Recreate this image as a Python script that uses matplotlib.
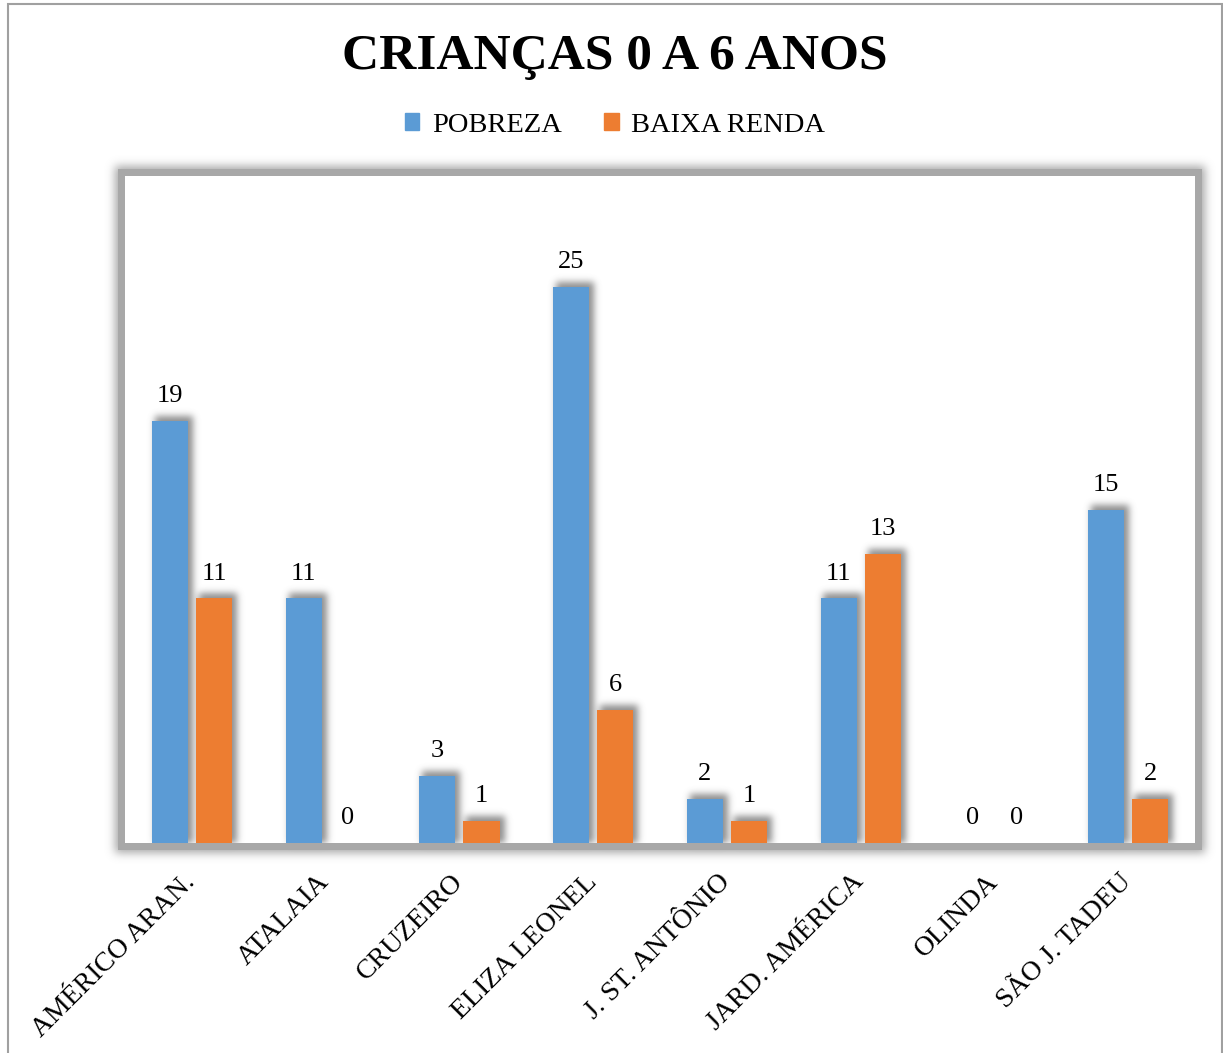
import numpy as np
import matplotlib
matplotlib.use('Agg')
import matplotlib.pyplot as plt
from matplotlib.patches import Rectangle
import matplotlib.transforms as mtransforms

categories = ['AMÉRICO ARAN.', 'ATALAIA', 'CRUZEIRO', 'ELIZA LEONEL',
              'J. ST. ANTÔNIO', 'JARD. AMÉRICA', 'OLINDA', 'SÃO J. TADEU']
pobreza = [19, 11, 3, 25, 2, 11, 0, 15]
baixa_renda = [11, 0, 1, 6, 1, 13, 0, 2]
series_names = ['POBREZA', 'BAIXA RENDA']
colors = ['#5B9BD5', '#ED7D31']
title = 'CRIANÇAS 0 A 6 ANOS'

W, H = 1223, 1053
DPI = 100
plt.rcParams['font.family'] = ['Liberation Serif', 'DejaVu Serif']

fig = plt.figure(figsize=(W / DPI, H / DPI), dpi=DPI)
fig.patch.set_facecolor('white')

L, R, B, T = 125 / W, 1195 / W, (H - 843) / H, (H - 176) / H
ax = fig.add_axes([L, B, R - L, T - B], zorder=2)
ax.patch.set_visible(False)

x = np.arange(len(categories))
bw = 0.27
off = 0.165
b1 = ax.bar(x - off, pobreza, bw, color=colors[0], label=series_names[0], zorder=3)
b2 = ax.bar(x + off, baixa_renda, bw, color=colors[1], label=series_names[1], zorder=3)
ax.set_xlim(-0.5, len(categories) - 0.5)
ax.set_ylim(0, 30)
ax.set_yticks([])
for s in ax.spines.values():
    s.set_visible(False)
ax.set_xticks(x)
ax.set_xticklabels(categories, rotation=45, ha='right', va='top',
                   rotation_mode='anchor', fontsize=20)
ax.tick_params(axis='x', length=0, pad=19)
shift = mtransforms.ScaledTranslation(-9 / DPI, 0, fig.dpi_scale_trans)
for lab in ax.get_xticklabels():
    lab.set_transform(lab.get_transform() + shift)

ax.bar_label(b1, padding=10, fontsize=19)
ax.bar_label(b2, padding=10, fontsize=19)

# ---- shadow / frame image ----
def blur(a, sigma):
    r = int(3 * sigma)
    k = np.exp(-0.5 * (np.arange(-r, r + 1) / sigma) ** 2)
    k /= k.sum()
    out = np.zeros_like(a)
    for i, w in zip(range(-r, r + 1), k):
        out += w * np.roll(a, i, axis=0)
    out2 = np.zeros_like(a)
    for i, w in zip(range(-r, r + 1), k):
        out2 += w * np.roll(out, i, axis=1)
    return out2

(px0, py0), (px1, py1) = ax.transAxes.transform([(0, 0), (1, 1)])
c0, c1 = int(round(px0)), int(round(px1))
r0, r1 = int(round(H - py1)), int(round(H - py0))
band = 7

frame = np.zeros((H, W))
e = band + 3
frame[r0 - e:r1 + e, c0 - e:c1 + e] = 1.0
frame_a = blur(frame, 4.5)
frame_c = 0.66

bars = np.zeros((H, W))
for bar in list(b1) + list(b2):
    h = bar.get_height()
    if h <= 0:
        continue
    (bx0, by0), (bx1, by1) = ax.transData.transform(
        [(bar.get_x(), 0), (bar.get_x() + bar.get_width(), h)])
    cc0, cc1 = int(round(bx0)) + 3, int(round(bx1)) + 5
    rr0, rr1 = int(round(H - by1)) - 5, int(round(H - by0))
    bars[rr0:rr1, cc0:cc1] = 1.0
bars_a = 0.8 * blur(bars, 3.5)
bars_c = 0.45

frame_a[r0:r1, c0:c1] = 0.0
out_a = bars_a + frame_a * (1 - bars_a)
with np.errstate(invalid='ignore', divide='ignore'):
    out_c = np.where(out_a > 0, (bars_c * bars_a + frame_c * frame_a * (1 - bars_a)) / out_a, 1.0)
bandmask = np.zeros((H, W), bool)
bandmask[r0 - band:r1 + band, c0 - band:c1 + band] = True
bandmask[r0:r1, c0:c1] = False
out_a[bandmask] = 1.0
out_c[bandmask] = frame_c

img = np.ones((H, W, 4))
img[..., 0] = out_c
img[..., 1] = out_c
img[..., 2] = out_c
img[..., 3] = np.clip(out_a, 0, 1)

ax_bg = fig.add_axes([0, 0, 1, 1], zorder=0)
ax_bg.imshow(img, extent=(0, W, 0, H), origin='upper', interpolation='none', aspect='auto')
ax_bg.set_xlim(0, W)
ax_bg.set_ylim(0, H)
ax_bg.axis('off')
ax_bg.add_patch(Rectangle((7.5, -20), 1214, H - 3.5 + 20, fill=False,
                          edgecolor='#a0a0a0', lw=1.5))

fig.text(615 / W, 1 - 57 / H, title, ha='center', va='center',
         fontsize=37, fontweight='bold')

handles = [Rectangle((0, 0), 1, 1, color=c) for c in colors]
fig.legend(handles, series_names, loc='center', bbox_to_anchor=(615 / W, 1 - 125 / H),
           ncol=2, frameon=False, fontsize=20.5, handlelength=0.5, handleheight=0.5,
           handletextpad=0.45, columnspacing=1.5)

fig.savefig('out.png', dpi=DPI)
